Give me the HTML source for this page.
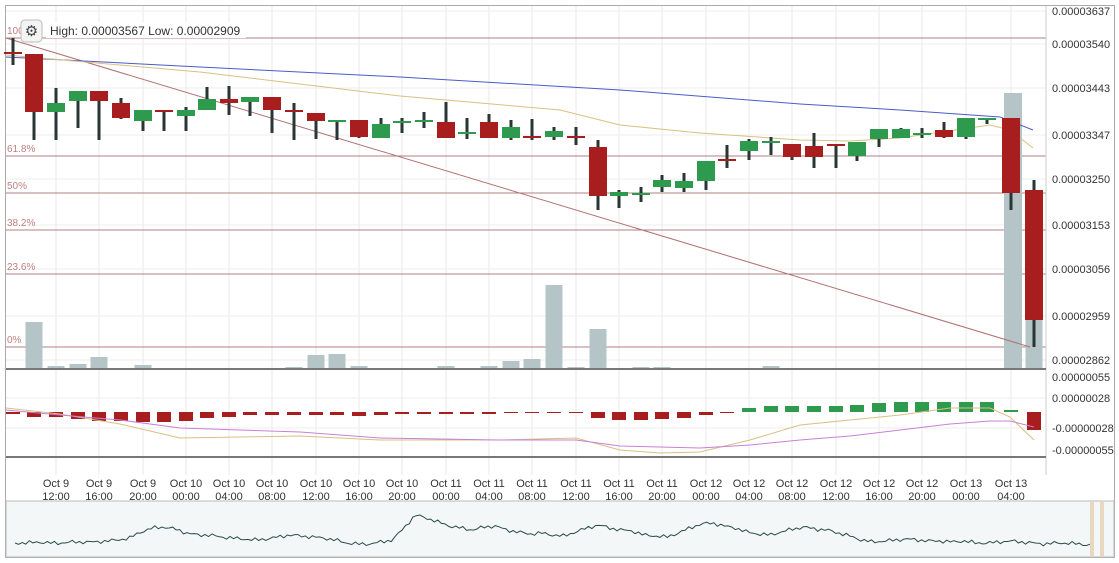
<!DOCTYPE html>
<html><head><meta charset="utf-8"><style>
html,body{margin:0;padding:0;background:#fff;width:1119px;height:563px;overflow:hidden}
svg{display:block;font-family:"Liberation Sans",sans-serif}
</style></head><body>
<svg id="s" width="1119" height="563" xmlns="http://www.w3.org/2000/svg"></svg>
<script>
var s=document.getElementById('s'),h='';
function r(x,y,w,hh,f){h+='<rect x="'+x+'" y="'+y+'" width="'+w+'" height="'+hh+'" fill="'+f+'"/>';}
function l(x1,y1,x2,y2,c,w){h+='<line x1="'+x1+'" y1="'+y1+'" x2="'+x2+'" y2="'+y2+'" stroke="'+c+'" stroke-width="'+(w||1)+'"/>';}
function t(x,y,txt,c,sz,a){h+='<text x="'+x+'" y="'+y+'" fill="'+c+'" font-size="'+(sz||11)+'" text-anchor="'+(a||'start')+'">'+txt+'</text>';}
function p(pts,c,w){h+='<polyline points="'+pts+'" fill="none" stroke="'+c+'" stroke-width="'+(w||1)+'"/>';}
h+='<rect x="5.5" y="5.5" width="1109" height="552" fill="none" stroke="#aaa"/>';
var xs=[56,99,143,186,229,272,316,359,402,446,489,532,576,619,662,706,749,792,836,879,922,966,1011];
var lab=['Oct 9|12:00','Oct 9|16:00','Oct 9|20:00','Oct 10|00:00','Oct 10|04:00','Oct 10|08:00','Oct 10|12:00','Oct 10|16:00','Oct 10|20:00','Oct 11|00:00','Oct 11|04:00','Oct 11|08:00','Oct 11|12:00','Oct 11|16:00','Oct 11|20:00','Oct 12|00:00','Oct 12|04:00','Oct 12|08:00','Oct 12|12:00','Oct 12|16:00','Oct 12|20:00','Oct 13|00:00','Oct 13|04:00'];
xs.forEach(function(x,i){l(x,6,x,475,'#e8e8e8');var q=lab[i].split('|');t(x,487,q[0],'#333',11,'middle');t(x,500,q[1],'#333',11,'middle');});
[11,44,88,135,179,225,269,316,360].forEach(function(y){l(6,y,1046,y,'#eee');});
[[38,'100%'],[156,'61.8%'],[193,'50%'],[230,'38.2%'],[274,'23.6%'],[347,'0%']].forEach(function(f){l(6,f[0],1046,f[0],'#b08080');t(7,f[0]-4,f[1],'#c08080',10);});
var vol=[[34,322],[13,368],[56,366],[78,364],[99,357],[121,368],[143,365],[164,368],[186,368],[229,368],[250,368],[272,368],[294,367],[316,355],[337,354],[359,366],[381,368],[446,366],[489,366],[511,361],[532,359],[554,285],[576,367],[598,329],[641,367],[662,367],[684,368],[706,368],[771,366],[1013,93],[1034,289]];
vol.forEach(function(v){var w=v[0]==1013?18:17;r(v[0]-w/2,v[1],w,369-v[1],'#b5c5c7');});
l(6,38,1030,347,'#b07070');
p('6,57 200,67 400,77 620,90 800,104 900,110 1000,117 1033,130','#4a5cc8');
p('6,55 200,72 400,96 560,110 620,125 700,133 800,140 850,141 900,138 990,125 1010,130 1033,148','#d8c080');
var G='#2e9a4e',R='#a81e1e';
var c=[[13,52,54,38,65],[34,54,112,54,140],[56,112,103,88,140],[78,101,91,91,128],[99,91,101,91,140],[121,103,118,98,119],[143,121,110,110,131],[164,110,112,110,131],[186,116,110,107,131],[207,110,99,87,110],[229,99,103,86,115],[250,102,97,97,116],[272,97,110,97,133],[294,110,112,103,140],[316,113,121,113,139],[337,121,120,120,140],[359,120,137,120,138],[381,138,124,118,138],[402,122,121,118,133],[424,121,120,112,128],[446,122,138,102,138],[467,133,132,118,139],[489,122,138,114,138],[511,138,127,120,140],[532,136,138,119,140],[554,137,131,127,140],[576,136,138,127,145],[598,147,196,140,210],[619,196,192,190,208],[641,194,193,187,202],[662,187,180,175,192],[684,188,181,173,192],[706,181,161,161,190],[727,159,161,145,168],[749,151,141,139,160],[771,142,141,137,155],[792,144,157,144,160],[814,146,157,133,168],[836,144,146,145,168],[857,156,142,142,161],[879,139,129,129,147],[901,138,129,128,138],[922,134,133,128,138],[944,130,137,122,138],[966,137,118,118,139],[987,119,118,118,124],[1011,118,193,118,210],[1034,190,320,180,347]];
c.forEach(function(k){var col=k[2]>k[1]?R:G;l(k[0],k[3],k[0],k[4],'#2a3535',3);var y=Math.min(k[1],k[2]),hh=Math.max(2,Math.abs(k[2]-k[1]));r(k[0]-9,y,18,hh,col);});
h+='<rect x="21" y="20" width="21" height="22" rx="4" fill="#f4f4f4" stroke="#bbb"/>';
t(31.5,36,'⚙','#444',15,'middle');
h+='<rect x="46" y="22" width="200" height="16" fill="#fff"/>';
t(50,35,'High: 0.00003567  Low: 0.00002909','#333',12);
l(1046,6,1046,475,'#ccc');
[[11,'0.00003637'],[44,'0.00003540'],[88,'0.00003443'],[135,'0.00003347'],[179,'0.00003250'],[225,'0.00003153'],[269,'0.00003056'],[316,'0.00002959'],[360,'0.00002862']].forEach(function(a){t(1052,a[0]+4,a[1],'#333',11);});
[[377,'0.00000055'],[398,'0.00000028'],[428,'-0.00000028'],[450,'-0.00000055']].forEach(function(a){t(1052,a[0]+4,a[1],'#333',11);});
l(6,369,1046,369,'#777',2);l(6,457,1046,457,'#777',2);
[398,428].forEach(function(y){l(6,y,1046,y,'#eee');});
var m=[[13,-2],[34,-5],[56,-5],[78,-7],[99,-9],[121,-9],[143,-10],[164,-10],[186,-9],[207,-6],[229,-5],[250,-3],[272,-3],[294,-3],[316,-3],[337,-3],[359,-4],[381,-3],[402,-2],[424,-2],[446,-2],[467,-2],[489,-2],[511,-1],[532,-1],[554,-1],[576,-1],[598,-6],[619,-8],[641,-8],[662,-7],[684,-6],[706,-3],[727,-1],[749,4],[771,6],[792,6],[814,6],[836,6],[857,7],[879,9],[901,10],[922,10],[944,10],[966,10],[987,10],[1011,2],[1034,-18]];
m.forEach(function(b){var z=412;if(b[1]<0)r(b[0]-7,z,14,-b[1],R);else r(b[0]-7,z-b[1],14,b[1],G);});
p('6,408 60,414 120,424 180,438 300,436 380,440 500,440 576,438 620,450 660,453 700,452 750,440 800,425 850,420 900,415 950,408 990,408 1010,417 1034,440','#d8c080');
p('6,410 60,415 120,420 180,428 300,432 380,438 500,440 576,440 620,446 700,448 750,445 800,440 850,436 900,430 950,424 990,421 1010,421 1034,427','#c880d8');
h+='<rect x="6" y="501" width="1108" height="56" fill="#f3f7f7" stroke="#bbb"/>';
var ys=[543,543,542,543,543,542,542,542,541,540,538,532,528,527,529,533,535,535,537,538,539,540,539,537,535,536,537,538,540,543,544,544,542,540,528,515,518,522,526,528,530,527,526,530,532,534,533,535,536,532,528,525,528,530,531,535,536,537,533,528,524,523,526,528,532,534,535,532,529,527,529,530,533,536,540,542,541,540,539,540,541,541,542,541,543,543,542,541,542,543,544,543,543,544,545];
var nav='',N=300;
for(var i=0;i<=N;i++){var f=i*(ys.length-1)/N,a=Math.floor(f),b=Math.min(a+1,ys.length-1),y=ys[a]+(ys[b]-ys[a])*(f-a);nav+=(15+i*1075/N).toFixed(1)+','+(y+Math.sin(i*2.7)*1.3+Math.sin(i*1.1)*0.8).toFixed(1)+' ';}
p(nav,'#2a4a4a');
r(1090,502,4,54,'#e8d8c0');r(1100,502,4,54,'#e8d8c0');
s.innerHTML=h;
</script>
</body></html>
